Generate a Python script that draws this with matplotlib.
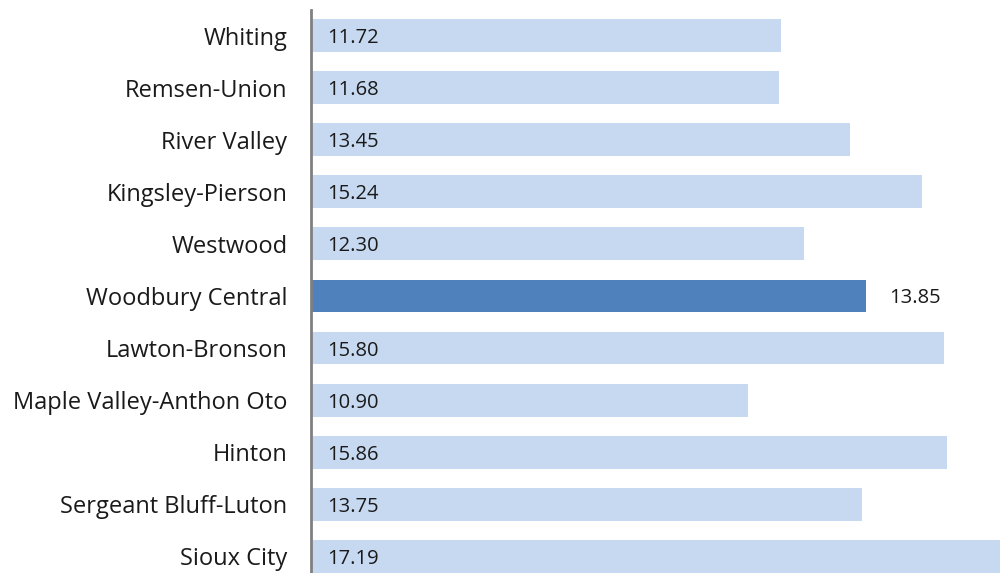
import matplotlib
matplotlib.use('Agg')
import matplotlib.pyplot as plt

# distritos y valores
distritos = ['Whiting', 'Remsen-Union', 'River Valley', 'Kingsley-Pierson', 'Westwood',
             'Woodbury Central', 'Lawton-Bronson', 'Maple Valley-Anthon Oto', 'Hinton',
             'Sergeant Bluff-Luton', 'Sioux City']
valores = [11.72, 11.68, 13.45, 15.24, 12.30, 13.85, 15.80, 10.90, 15.86, 13.75, 17.19]
destacado = 'Woodbury Central'

plt.rcParams['font.family'] = ['Open Sans', 'DejaVu Sans']

fig = plt.figure(figsize=(10.02, 5.73), dpi=100)
ax = fig.add_axes([0.3104, 0.0, 0.6896, 0.9825])

colores = ['#4F81BD' if d == destacado else '#C6D9F1' for d in distritos]
pos = list(range(len(distritos)))
ax.barh(pos, valores, height=0.63, color=colores)

for i, (d, v) in enumerate(zip(distritos, valores)):
    x = v + 0.57 if d == destacado else 0.4
    ax.text(x, i, f'{v:.2f}', va='center_baseline', ha='left', fontsize=14.5, color='#1a1a1a')

ax.set_yticks(pos)
ax.set_yticklabels(distritos, fontsize=17, color='#1a1a1a')
ax.tick_params(axis='y', length=0, pad=17)
ax.set_xticks([])
ax.set_xlim(0, 17.24)
ax.set_ylim(10.32, -0.49)

for s in ['top', 'right', 'bottom']:
    ax.spines[s].set_visible(False)
ax.spines['left'].set_color('#808080')
ax.spines['left'].set_linewidth(2)

fig.savefig('out.png', dpi=100)
